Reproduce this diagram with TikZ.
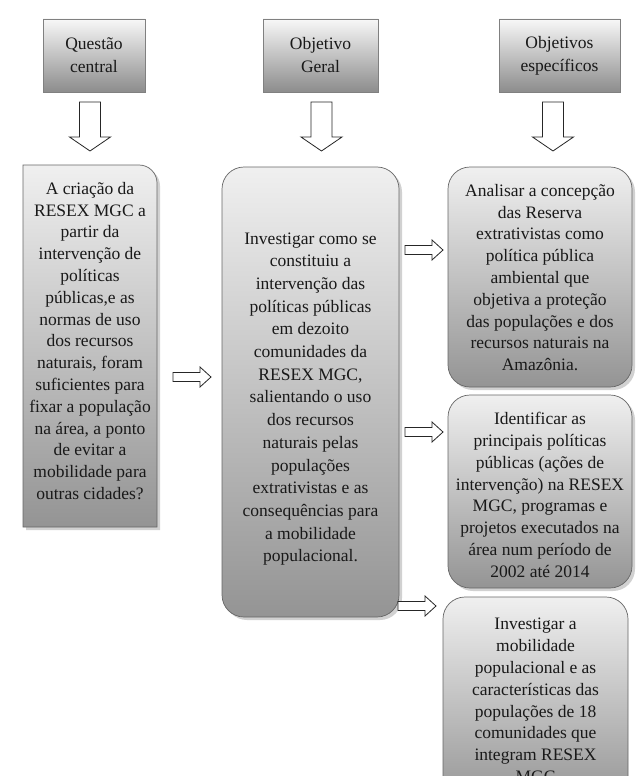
\documentclass[tikz,border=0pt]{standalone}
\usepackage{fontspec}
\setmainfont{Liberation Serif}
\pgfdeclarelayer{bg}
\pgfsetlayers{bg,main}
\begin{document}
\begin{tikzpicture}[x=1pt,y=-1pt,
  hdr/.style={draw=black!50, top color=black!3, bottom color=black!45, minimum height=73pt, inner sep=0pt, align=center, font=\fontsize{17.5}{23}\selectfont, text=black!90},
  cbox/.style={draw=black!60, top color=black!6, bottom color=black!42, rounded corners=22pt, inner sep=0pt, line width=0.7pt},
  ctext/.style={align=center, inner sep=0pt, font=\fontsize{17.5}{21.8}\selectfont, text=black!90},
  arrowline/.style={draw=black!85, fill=white, line width=0.8pt, line join=miter},
  darr/.pic={\path[arrowline] (-10.5,0) -- (-10.5,35) -- (-20.5,35) -- (0,49) -- (20.5,35) -- (10.5,35) -- (10.5,0) -- cycle;},
  rarr/.pic={\path[arrowline] (0,-4.5) -- (27,-4.5) -- (27,-10) -- (38,0) -- (27,10) -- (27,4.5) -- (0,4.5) -- cycle;}
]
\useasboundingbox (0,0) rectangle (639,776);
\clip (0,0) rectangle (639,776);
\fill[white] (0,0) rectangle (639,776);

% header boxes
\node[hdr, minimum width=102pt] (h1) at (94,55.5) {Questão\\central};
\node[hdr, minimum width=115pt] (h2) at (320.5,55.5) {Objetivo\\Geral};
\node[hdr, minimum width=121pt] (h3) at (559.5,55.5) {Objetivos\\específicos};
\begin{pgfonlayer}{bg}
  \foreach \n in {h1,h2,h3}{
    \fill[black!55] ([shift={(3,3)}]\n.north west) rectangle ([shift={(3,3)}]\n.south east);
  }
\end{pgfonlayer}

% down arrows
\pic at (90,102) {darr};
\pic at (321.5,102) {darr};
\pic at (553,102) {darr};

% left content box (one rounded corner)
\fill[black!18] (26,168) -- (142,168) .. controls (152,168) and (160,176) .. (160,186) -- (160,530) -- (26,530) -- cycle;
\draw[draw=black!60, top color=black!6, bottom color=black!42, line width=0.7pt]
  (23,527) -- (23,165) -- (139,165) .. controls (149,165) and (157,173) .. (157,183) -- (157,527) -- cycle;
\node[ctext] (c1) at (90,341) {A criação da\\RESEX MGC a\\partir da\\intervenção de\\políticas\\públicas,e as\\normas de uso\\dos recursos\\naturais, foram\\suficientes para\\fixar a população\\na área, a ponto\\de evitar a\\mobilidade para\\outras cidades?};

% center box
\fill[black!18, rounded corners=22pt] (225,170) rectangle (402,620);
\node[cbox, minimum width=177pt, minimum height=450pt] (c2) at (310.5,392) {};
\node[ctext, font=\fontsize{17.5}{22.7}\selectfont] (t2) at (310.5,399) {Investigar como se\\constituiu a\\intervenção das\\políticas públicas\\em dezoito\\comunidades da\\RESEX MGC,\\salientando o uso\\dos recursos\\naturais pelas\\populações\\extrativistas e as\\consequências para\\a mobilidade\\populacional.};

% right boxes
\fill[black!18, rounded corners=22pt] (451,170) rectangle (635,390);
\node[cbox, minimum width=184pt, minimum height=220pt] (r1) at (540,277) {};
\node[ctext] (t3) at (540,277.5) {Analisar a concepção\\das Reserva\\extrativistas como\\política pública\\ambiental que\\objetiva a proteção\\das populações e dos\\recursos naturais na\\Amazônia.};

\fill[black!18, rounded corners=22pt] (451,398) rectangle (635,591);
\node[cbox, minimum width=184pt, minimum height=193pt] (r2) at (540,491.5) {};
\node[ctext] (t4) at (540,495) {Identificar as\\principais políticas\\públicas (ações de\\intervenção) na RESEX\\MGC, programas e\\projetos executados na\\área num período de\\2002 até 2014};

\node[cbox, minimum width=185pt, minimum height=208pt] (r3) at (535.5,701) {};
\node[ctext] (t5) at (535.5,700.5) {Investigar a\\mobilidade\\populacional e as\\características das\\populações de 18\\comunidades que\\integram RESEX\\MGC};

% right arrows
\pic at (173,377) {rarr};
\pic at (405,250) {rarr};
\pic at (405,432) {rarr};
\pic at (398,606) {rarr};
\end{tikzpicture}
\end{document}
